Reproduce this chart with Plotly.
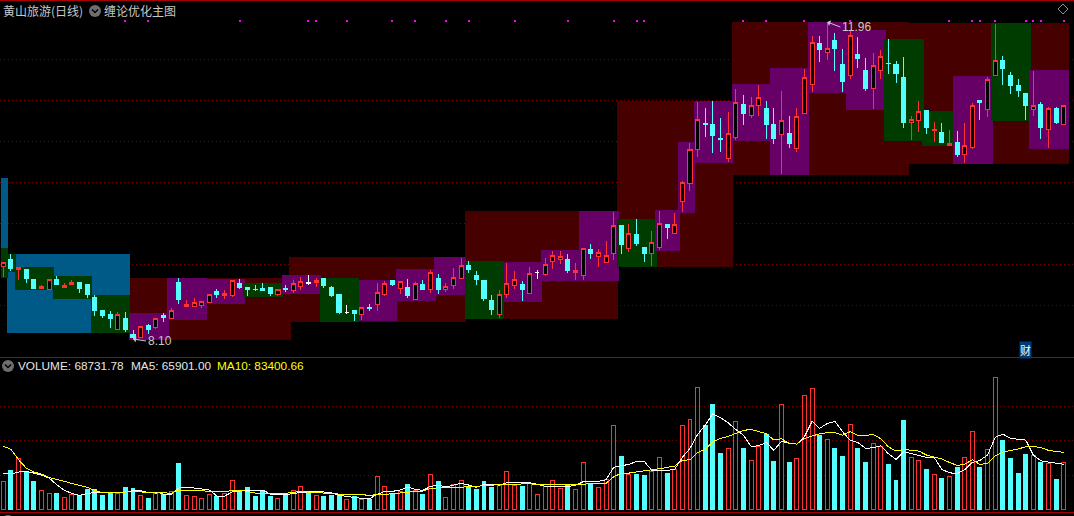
import plotly.graph_objects as go

title_left = "黄山旅游(日线)"
title_right = "缠论优化主图"
vol_label = "VOLUME: 68731.78"
ma5_label = "MA5: 65901.00"
ma10_label = "MA10: 83400.66"
low_label = "8.10"
high_label = "11.96"
low_index, low_price = 17, 8.096
high_index, high_price = 108, 11.963

open_ = [8.978,9.060,8.950,8.938,8.816,8.710,8.698,8.828,8.730,8.758,8.791,8.755,8.608,8.438,8.389,8.210,8.352,8.145,8.112,8.255,
8.234,8.377,8.344,8.791,8.490,8.490,8.507,8.539,8.670,8.624,8.624,8.779,8.730,8.702,8.718,8.730,8.633,8.710,8.682,8.734,
8.783,8.783,8.840,8.730,8.633,8.417,8.438,8.392,8.486,8.511,8.633,8.804,8.710,8.730,8.584,8.755,8.694,8.840,8.706,8.743,
8.840,8.987,8.865,8.804,8.560,8.389,8.633,8.743,8.767,8.657,8.913,8.889,9.039,9.063,9.072,8.905,8.868,9.194,9.100,9.027,
9.137,9.475,9.198,9.377,9.218,9.137,9.210,9.487,9.389,9.771,9.991,10.405,10.731,10.719,10.548,10.296,10.552,10.963,10.820,10.942,
10.914,10.707,10.589,10.609,10.418,10.845,11.203,11.707,11.589,11.732,11.451,11.308,11.561,11.366,11.150,11.369,11.463,11.451,11.292,10.735,
10.759,10.878,10.637,10.621,10.454,10.499,10.344,10.430,11.000,10.893,11.308,11.488,11.305,11.183,11.097,10.893,10.951,10.650,10.914,10.710]
close = [9.032,8.962,8.974,8.840,8.718,8.739,8.824,8.755,8.751,8.791,8.718,8.633,8.438,8.377,8.352,8.397,8.206,8.120,8.251,8.206,
8.348,8.364,8.446,8.572,8.519,8.544,8.556,8.641,8.645,8.653,8.812,8.730,8.706,8.694,8.682,8.657,8.702,8.702,8.775,8.800,
8.779,8.812,8.743,8.621,8.425,8.417,8.413,8.483,8.474,8.666,8.775,8.755,8.800,8.621,8.775,8.706,8.910,8.706,8.739,8.849,
8.987,8.938,8.816,8.596,8.450,8.645,8.779,8.828,8.706,8.901,8.913,9.011,9.117,9.105,8.926,8.934,9.203,9.145,9.154,9.117,
9.483,9.243,9.386,9.267,9.145,9.276,9.508,9.462,9.495,10.008,10.410,10.776,10.707,10.573,10.536,10.606,10.984,10.853,10.947,11.045,
10.707,10.548,10.764,10.487,10.813,11.289,11.716,11.634,11.643,11.646,11.243,11.801,11.524,11.158,11.435,11.545,11.455,11.341,10.743,10.776,
10.874,10.682,10.658,10.499,10.484,10.341,10.459,10.947,10.987,11.264,11.496,11.402,11.183,11.122,10.939,10.947,10.682,10.911,10.743,10.947]
high = [9.036,9.133,8.974,8.938,8.816,8.758,8.824,8.865,8.775,8.816,8.791,8.755,8.633,8.450,8.438,8.425,8.425,8.206,8.251,8.279,
8.348,8.413,8.474,8.840,8.572,8.596,8.556,8.641,8.706,8.694,8.812,8.828,8.730,8.755,8.779,8.730,8.702,8.755,8.816,8.852,
8.877,8.840,8.840,8.743,8.633,8.511,8.450,8.483,8.523,8.779,8.804,8.816,8.800,8.828,8.791,8.816,8.938,8.889,8.779,8.962,
9.084,9.048,8.926,8.804,8.633,8.694,9.023,8.926,8.804,8.974,8.938,9.084,9.170,9.170,9.133,9.023,9.203,9.255,9.194,9.292,
9.645,9.475,9.499,9.560,9.218,9.414,9.658,9.487,9.633,10.024,10.487,10.987,10.914,11.000,10.792,10.865,11.146,11.073,11.048,11.195,
11.000,10.914,11.122,10.817,10.914,11.390,11.793,11.793,11.963,11.829,11.634,11.866,11.780,11.524,11.585,11.622,11.756,11.488,11.536,10.817,
11.000,10.878,10.743,10.731,10.646,10.634,10.731,10.975,11.000,11.292,11.939,11.548,11.353,11.268,11.097,11.366,10.987,10.926,10.926,10.947]
low = [8.856,8.926,8.816,8.779,8.706,8.710,8.698,8.755,8.718,8.758,8.657,8.596,8.377,8.352,8.230,8.210,8.181,8.096,8.108,8.157,
8.218,8.303,8.344,8.523,8.490,8.490,8.474,8.539,8.596,8.584,8.608,8.706,8.621,8.682,8.682,8.621,8.621,8.670,8.657,8.694,
8.755,8.730,8.718,8.608,8.401,8.401,8.316,8.328,8.438,8.438,8.621,8.743,8.645,8.596,8.572,8.706,8.657,8.645,8.670,8.706,
8.840,8.901,8.755,8.560,8.389,8.352,8.596,8.706,8.560,8.657,8.828,8.865,8.950,9.011,8.901,8.816,8.816,9.072,8.974,9.027,
9.060,9.133,9.157,9.231,9.035,8.987,9.182,9.316,9.377,9.645,9.902,10.316,10.560,10.365,10.377,10.255,10.524,10.707,10.792,10.817,
10.536,10.475,10.109,10.426,10.377,10.845,11.109,11.475,11.500,11.366,11.109,11.268,11.402,11.122,10.902,11.268,11.329,11.219,10.670,10.524,
10.621,10.597,10.499,10.487,10.454,10.316,10.243,10.414,10.768,10.804,11.308,11.195,11.085,11.048,10.768,10.817,10.536,10.426,10.719,10.710]
white_candles = [40, 45, 70]
signal_dots = [16,19,31,40,41,45,51,54,58,61,67,74,80,83,84,97,100,105,111,124,127,128,130,134,135,136,139]
signal_price = 11.98

volume = [41600,56600,75000,54200,40700,28600,24200,23200,18400,21800,20300,29000,30000,20300,24200,24200,31900,30500,21300,16000,
24200,21800,27100,66800,21300,19800,16900,22700,18900,24200,43100,27600,31900,18900,26100,18900,16900,21800,28600,34400,
25700,21300,18900,20300,21800,15500,18900,15000,15500,48400,33400,23700,26600,37300,28100,22700,51300,41600,17900,36800,
42600,33900,30000,41600,32900,35300,55700,35300,34400,38200,22300,33900,42600,31000,36800,29500,68700,37300,32400,44000,
122500,77900,51300,51800,50300,55700,76000,53200,58600,122500,131200,177600,122900,153400,82300,89100,128300,89500,71600,92400,
109900,70700,152900,69200,74500,166000,176200,108400,102100,89500,77900,123900,89500,69200,96300,92400,66300,43100,130200,76000,
71600,59000,51300,46000,48400,62000,76000,113700,62000,87600,192100,101200,75000,53200,80800,78900,69200,67300,44500,68731.78]
ma5 = [53200,51800,54700,55700,53200,50300,46000,36300,28100,23700,20800,23700,24700,24700,24700,25700,25700,27600,27600,24700,
25700,22700,21800,31500,32900,31500,30500,28600,19800,19800,25700,27600,28600,28600,28600,22700,21800,21800,23700,24700,
26600,27100,25700,24700,20800,18900,17900,16500,16000,22300,26600,26600,28600,32900,29500,28100,33900,35800,32900,35800,
38200,35800,32400,36800,35800,35800,39200,39200,38200,39200,36800,33900,33900,33900,33900,35300,40700,41100,41100,43600,
61500,63900,65800,70200,70200,57100,57100,57100,58600,76000,89100,109400,122900,139400,133600,126300,116600,108400,92000,92900,
97800,86200,99700,96300,95300,106000,128300,118100,125400,128300,113300,100700,97800,89100,90000,92900,81300,73100,84200,81800,
79400,76000,76000,58600,53700,52300,58100,68700,71600,79400,105000,109900,103600,102100,101200,79400,71100,69200,67300,65901]
ma10 = [92400,87600,72600,60500,54700,51800,46900,44000,41100,38200,35300,32400,28100,24700,24700,24700,25700,26600,25700,24200,
24200,24700,23700,28600,28600,28100,27600,26600,25700,25700,28100,28600,26600,24200,24200,23700,23700,23700,25200,26600,
25700,24700,24200,23200,22700,22700,22700,22300,20300,22300,22300,23200,23700,25200,26600,27100,31000,31900,32400,32400,
32400,33900,33400,35300,35800,36300,37300,37300,38200,37800,36300,36300,36300,36300,36300,36300,36800,38200,38200,38200,
47900,52800,53200,55200,56600,58100,59500,61000,63400,71600,72600,83200,87600,98700,103600,106500,110800,115200,116600,113300,
110400,101200,103100,96300,95300,103600,107400,110400,111800,111800,108400,113300,107900,107900,109400,103100,91500,85200,87600,86200,
85200,79400,76500,73600,68700,64400,65800,72600,65800,67300,77900,83700,86200,88100,91500,92000,90000,86200,84700,83400.66]

zone_left = [16.6,37.44,60.51,80.43,95.5,118.7,-0.3,0.48,-0.3,0.62,1.53,6.51,11.49,16.47,21.45,26.7,31.42,36.53,41.51,46.62,51.47,56.45,60.51,65.62,70.47,75.45,80.43,85.41,88.43,90.53,95.5,100.48,105.47,110.45,115.43,120.41,124.47,129.45,134.43]
zone_right = [37.7,60.64,80.56,95.63,118.7,139.67,0.62,16.6,0.62,1.66,6.64,11.62,16.6,21.72,26.7,31.68,36.66,41.64,46.62,51.6,56.71,60.64,65.62,70.6,75.58,80.69,85.68,88.69,90.66,95.63,100.48,105.6,110.58,115.69,120.67,124.6,129.7,134.69,139.67]
zone_low = [8.084,8.307,8.34,8.974,10.097,10.231,8.84,8.169,8.84,8.913,8.694,8.584,8.169,8.084,8.328,8.523,8.608,8.645,8.303,8.316,8.56,8.633,8.34,8.547,8.804,8.804,8.974,9.17,9.633,10.243,10.512,10.097,11.097,10.89,10.512,10.451,10.231,10.756,10.414]
zone_high = [8.84,9.096,9.658,11.0,11.963,11.951,10.06,9.133,9.206,9.133,8.974,8.865,8.633,8.413,8.84,8.828,8.779,8.877,8.84,8.816,8.95,9.096,9.048,9.035,9.182,9.658,9.56,9.67,10.5,11.0,11.207,11.402,11.963,11.866,11.756,10.878,11.305,11.951,11.378]
zone_kind = ["maroon"]*6 + ["blue"]*2 + ["green"]*5 + ["purple"]*3 + ["green","purple","green","purple","purple","purple","green","purple","purple","purple","green","purple","purple","purple","purple","purple","purple","purple","green","green","purple","green","purple"]

ZONE_COLORS = {"maroon": "#460000", "blue": "#005a88", "green": "#003c00", "purple": "#660066"}
RED, CYAN, GRID, AXIS = "#ff3232", "#54ffff", "#780000", "#a80000"
TEXT = "#c8c8c8"
HEAD = "#e6e6e6"

n = len(close)
idx = list(range(n))
fig = go.Figure()

fig.add_trace(go.Bar(
    x=[(a + b) / 2 for a, b in zip(zone_left, zone_right)],
    y=[h - l for h, l in zip(zone_high, zone_low)],
    base=zone_low,
    width=[b - a for a, b in zip(zone_left, zone_right)],
    marker=dict(color=[ZONE_COLORS[k] for k in zone_kind], line=dict(width=0)),
    xaxis="x", yaxis="y",
))

normal = [i for i in idx if i not in white_candles]
fig.add_trace(go.Candlestick(
    x=normal,
    open=[open_[i] for i in normal], high=[high[i] for i in normal],
    low=[low[i] for i in normal], close=[close[i] for i in normal],
    increasing=dict(line=dict(color=RED, width=1), fillcolor="#000000"),
    decreasing=dict(line=dict(color=CYAN, width=1), fillcolor=CYAN),
    whiskerwidth=0, xaxis="x", yaxis="y",
))
fig.add_trace(go.Candlestick(
    x=white_candles,
    open=[open_[i] for i in white_candles], high=[high[i] for i in white_candles],
    low=[low[i] for i in white_candles], close=[close[i] for i in white_candles],
    increasing=dict(line=dict(color="#ffffff", width=1), fillcolor="#ffffff"),
    decreasing=dict(line=dict(color="#ffffff", width=1), fillcolor="#ffffff"),
    whiskerwidth=0, xaxis="x", yaxis="y",
))
fig.add_trace(go.Scatter(
    x=signal_dots, y=[signal_price] * len(signal_dots), mode="markers",
    marker=dict(symbol="square", size=2, color="#ff00ff", line=dict(width=0)),
    xaxis="x", yaxis="y",
))

up = [c >= o for o, c in zip(open_, close)]
fig.add_trace(go.Bar(
    x=idx, y=volume, width=0.52,
    marker=dict(color=["#000000" if u else CYAN for u in up],
                line=dict(color=[RED if u else CYAN for u in up], width=1)),
    xaxis="x2", yaxis="y2",
))
fig.add_trace(go.Scatter(x=idx, y=ma5, mode="lines", line=dict(color="#ffffff", width=1), xaxis="x2", yaxis="y2"))
fig.add_trace(go.Scatter(x=idx, y=ma10, mode="lines", line=dict(color="#ffff00", width=1), xaxis="x2", yaxis="y2"))

W, H = 1074, 516
xr = [-0.4325, 140.33]
axis_common = dict(range=xr, showgrid=False, zeroline=False, showticklabels=False, ticks="",
                   showline=True, linecolor=AXIS, linewidth=1, fixedrange=True)
y_common = dict(showline=False, zeroline=False, showticklabels=False, ticks="", showgrid=True,
                gridcolor=GRID, griddash="1px,3px", gridwidth=1, fixedrange=True)

def px(v):
    return v / W

def py(v):
    return 1 - v / H

def label(x, y, text, color=TEXT, size=12, family="Liberation Sans", xanchor="left"):
    return dict(xref="paper", yref="paper", x=px(x), y=py(y), text=text, showarrow=False,
                xanchor=xanchor, yanchor="middle", font=dict(color=color, size=size, family=family))

annotations = [
    label(1, 10, title_left, size=12, family="Noto Sans CJK SC"),
    label(102, 10, title_right, size=12, family="Noto Sans CJK SC"),
    label(16, 366, vol_label, color=HEAD, size=11.8),
    label(129, 366, ma5_label, color=HEAD, size=11.8),
    label(215, 366, ma10_label, color="#ffff00", size=11.8),
    dict(xref="paper", yref="paper", x=px(1025.5), y=py(349.5), text="财", showarrow=False,
         font=dict(color="#ffffff", size=11, family="Noto Sans CJK SC"), bgcolor="#003c78",
         borderpad=0, xanchor="center", yanchor="middle"),
    dict(x=low_index, y=low_price, xref="x", yref="y", text=low_label, showarrow=True, ax=13, ay=2,
         xanchor="left", arrowcolor=TEXT, arrowwidth=1, arrowhead=1, arrowsize=1, standoff=0,
         font=dict(color=TEXT, size=12, family="Liberation Sans")),
    dict(x=high_index, y=high_price, xref="x", yref="y", text=high_label, showarrow=True, ax=13, ay=5,
         xanchor="left", arrowcolor=TEXT, arrowwidth=1, arrowhead=1, arrowsize=1, standoff=0,
         font=dict(color=TEXT, size=12, family="Liberation Sans")),
]

def circle(cx, cy, r=6):
    return dict(type="circle", xref="paper", yref="paper", x0=px(cx - r), x1=px(cx + r),
                y0=py(cy + r), y1=py(cy - r), fillcolor="#6e6e6e", line=dict(width=0))

def chevron(cx, cy):
    return dict(type="path", xref="paper", yref="paper",
                path=f"M {px(cx-3)} {py(cy-1.5)} L {px(cx)} {py(cy+1.5)} L {px(cx+3)} {py(cy-1.5)}",
                line=dict(color="#000000", width=1.5))

shapes = [
    circle(95, 11), chevron(95, 11), circle(8, 366), chevron(8, 366),
    circle(8, 521),
    dict(type="path", xref="paper", yref="paper",
         path=f"M {px(1058)} {py(9)} L {px(1063)} {py(4)} L {px(1068)} {py(9)} L {px(1063)} {py(14)} Z",
         line=dict(color="#8c8c8c", width=1)),
]

fig.update_layout(
    width=W, height=H, autosize=False,
    margin=dict(l=0, r=0, t=0, b=0, pad=0),
    paper_bgcolor="#000000", plot_bgcolor="#000000",
    showlegend=False, hovermode=False, barmode="overlay", boxgap=0.47, boxgroupgap=0,
    xaxis=dict(axis_common, domain=[0, 1], anchor="y", mirror=True, rangeslider=dict(visible=False)),
    yaxis=dict(y_common, domain=[1 - 357 / H, 1 - 1 / H], anchor="x", range=[7.8764, 12.2196],
               tickvals=[8.5, 9, 9.5, 10, 10.5, 11, 11.5]),
    xaxis2=dict(axis_common, domain=[0, 1], anchor="y2", matches="x"),
    yaxis2=dict(y_common, domain=[(H - 512) / H, (H - 358) / H], anchor="x2",
                range=[-3342, 220400], tickvals=[50000, 100000, 150000]),
    annotations=annotations, shapes=shapes,
)

page_js = (
    "document.body.style.margin='0';document.body.style.background='#000';"
    "document.documentElement.style.overflow='hidden';"
    "var s=document.createElement('style');"
    "s.textContent='.cartesianlayer path{shape-rendering:crispEdges !important}';"
    "document.head.appendChild(s);"
)
fig.write_html("out.html", config=dict(displayModeBar=False), post_script=page_js)
